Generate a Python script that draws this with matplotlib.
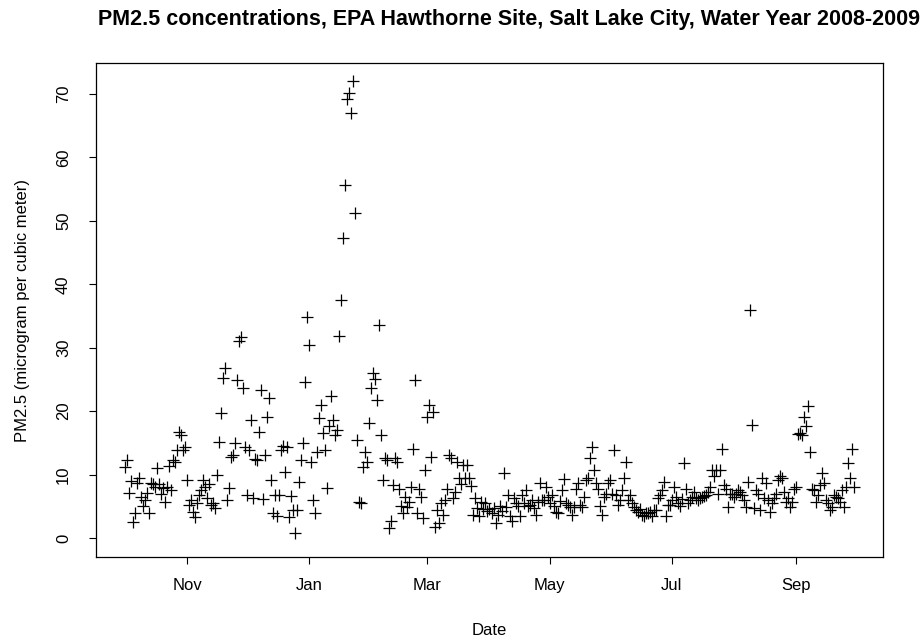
import numpy as np
import pandas as pd
import matplotlib
matplotlib.use("Agg")
import matplotlib.pyplot as plt
import matplotlib.dates as mdates

plt.rcParams["font.family"] = ["Liberation Sans", "DejaVu Sans"]

# daily PM2.5, water year Oct 2008 - Sep 2009
oct08 = [11.2, 12.3, 7.1, 9.0, 2.5, 3.9, 8.7, 9.5, 6.5, 5.0,
         6.0, 7.1, 3.9, 8.7, 8.5, 8.0, 11.0, 8.5, 7.0, 7.9,
         5.7, 8.0, 11.4, 7.5, 12.3, 12.0, 13.9, 16.7, 16.2, 13.9, 14.3]
nov08 = [9.1, 5.2, 6.0, 4.1, 3.3, 5.5, 6.8, 7.5, 9.1, 8.0,
         6.3, 8.5, 5.2, 5.5, 4.7, 9.9, 15.1, 19.7, 25.2, 26.8,
         6.0, 7.9, 12.8, 13.1, 15.0, 24.9, 31.0, 31.7, 23.6, 14.4]
dec08 = [6.8, 13.9, 18.6, 6.3, 12.5, 12.3, 16.7, 23.3, 6.2, 13.1,
         19.1, 22.1, 9.1, 3.9, 6.8, 3.5, 6.8, 13.9, 14.5, 10.4,
         14.4, 3.3, 6.6, 4.4, 0.8, 4.4, 8.8, 12.3, 15.0, 24.6, 34.9]
jan09 = [30.4, 12.0, 6.0, 3.9, 13.6, 18.9, 21.0, 16.5, 13.9, 7.9,
         17.6, 22.4, 18.6, 16.2, 17.0, 31.8, 37.5, 47.3, 55.7, 69.3,
         70.1, 67.0, 72.0, 51.2, 15.5, 5.7, 5.5, 11.2, 13.6, 12.0, 18.1]
feb09 = [23.7, 26.0, 25.0, 21.8, 33.6, 16.2, 9.1, 12.6, 12.3, 1.5,
         2.6, 8.4, 12.6, 12.0, 7.8, 5.0, 3.9, 6.5, 4.9, 5.7,
         8.0, 14.1, 24.9, 3.9, 7.8, 6.5, 3.1, 10.7]
mar09 = [19.1, 21.0, 12.8, 19.9, 1.8, 4.4, 2.3, 5.5, 3.6, 6.0,
         7.8, 13.1, 12.6, 6.3, 7.3, 12.0, 9.4, 8.5, 11.5, 9.4,
         11.5, 9.4, 8.2, 3.6, 6.3, 4.8, 3.5, 5.7, 4.5, 5.5, 4.2]
apr09 = [4.5, 3.9, 4.8, 2.3, 3.6, 5.0, 4.2, 10.2, 4.9, 6.8,
         3.4, 2.6, 6.3, 5.5, 5.0, 3.5, 6.8, 5.5, 7.6, 5.0,
         5.2, 6.0, 4.7, 3.6, 5.7, 8.6, 6.0, 6.0, 8.1, 6.5]
may09 = [5.5, 6.8, 5.0, 4.1, 3.9, 5.8, 7.6, 9.3, 5.5, 5.2,
         4.9, 3.6, 4.9, 7.8, 8.6, 5.2, 4.9, 6.5, 9.1, 9.4,
         12.6, 14.4, 10.7, 8.6, 7.8, 5.0, 3.6, 6.5, 7.0, 8.6, 9.1]
jun09 = [7.0, 13.9, 6.8, 5.2, 6.0, 7.5, 9.4, 12.0, 6.0, 6.8,
         5.5, 4.9, 4.4, 4.1, 4.5, 3.6, 3.4, 3.9, 4.0, 4.1,
         3.4, 4.4, 4.4, 6.3, 6.8, 7.6, 8.9, 3.4, 5.2, 5.2]
jul09 = [6.0, 8.1, 6.5, 5.5, 5.0, 6.2, 11.9, 7.8, 5.5, 6.0,
         6.5, 7.3, 6.3, 6.0, 6.3, 6.5, 6.6, 6.8, 7.2, 8.1,
         10.7, 9.7, 10.7, 7.0, 10.7, 14.1, 8.4, 7.8, 4.9, 7.0, 7.0]
aug09 = [6.5, 7.0, 7.5, 7.3, 6.8, 6.0, 4.9, 8.9, 36.0, 17.8,
         4.7, 7.6, 7.0, 4.4, 9.4, 6.3, 8.6, 6.0, 4.1, 5.5,
         6.3, 7.0, 9.1, 9.7, 9.5, 7.3, 5.7, 6.3, 4.9, 5.7, 7.8]
sep09 = [8.1, 16.4, 16.5, 16.2, 19.0, 17.6, 20.8, 13.6, 7.8, 7.6,
         5.7, 6.8, 8.4, 10.3, 8.6, 6.0, 5.5, 4.4, 4.9, 6.8,
         6.5, 6.3, 5.7, 7.6, 4.9, 8.1, 11.9, 9.4, 14.1, 8.1]

pm25 = np.array(oct08 + nov08 + dec08 + jan09 + feb09 + mar09 +
                apr09 + may09 + jun09 + jul09 + aug09 + sep09)
dates = pd.date_range("2008-10-01", "2009-09-30", freq="D")

tick_dates = pd.to_datetime(["2008-11-01", "2009-01-01", "2009-03-01",
                             "2009-05-01", "2009-07-01", "2009-09-01"])
y_ticks = [0, 10, 20, 30, 40, 50, 60, 70]

fig = plt.figure(figsize=(9.24, 6.43), dpi=100)
ax = fig.add_axes([96 / 924, 1 - 557 / 643, 787 / 924, 494 / 643])

ax.plot(dates, pm25, linestyle="none", marker="+", markersize=9,
        markeredgewidth=0.9, color="black")

x0 = mdates.date2num(dates[0])
x1 = mdates.date2num(dates[-1])
ext = 0.04 * (x1 - x0)
ax.set_xlim(x0 - ext, x1 + ext)
ax.set_ylim(-3.0, 74.9)

ax.set_xticks(tick_dates)
ax.xaxis.set_major_formatter(mdates.DateFormatter("%b"))
ax.set_yticks(y_ticks)
ax.set_yticklabels([str(v) for v in y_ticks], rotation=90, va="center")

ax.tick_params(direction="out", length=5, width=0.8, labelsize=12,
               color="black", labelcolor="black")
ax.tick_params(axis="x", pad=10)
ax.tick_params(axis="y", pad=13)
for s in ax.spines.values():
    s.set_linewidth(0.9)
    s.set_color("black")

ax.set_xlabel("Date", fontsize=12, labelpad=22)
ax.set_ylabel("PM2.5 (microgram per cubic meter)", fontsize=12, labelpad=19)

fig.text(0.551, 1 - 20 / 643,
         "PM2.5 concentrations, EPA Hawthorne Site, Salt Lake City, Water Year 2008-2009",
         ha="center", va="center", fontsize=15.5, fontweight="bold")

fig.savefig("out.png", dpi=100)
